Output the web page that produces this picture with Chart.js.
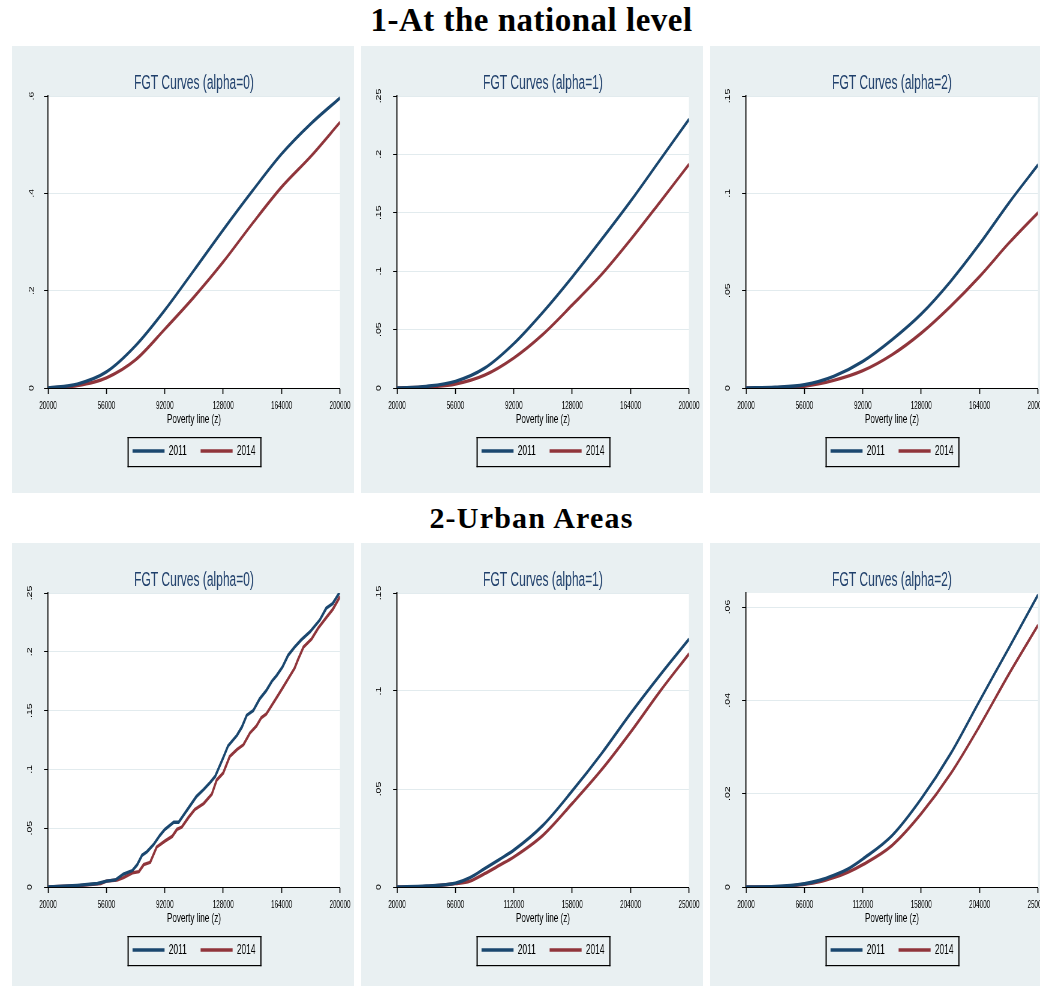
<!DOCTYPE html>
<html>
<head>
<meta charset="utf-8">
<title>FGT Curves</title>
<script src="https://cdn.jsdelivr.net/npm/chart.js@4.4.1/dist/chart.umd.min.js"></script>
<style>
  html, body { margin: 0; padding: 0; background: #fff; }
  body { position: relative; width: 1040px; height: 986px; overflow: hidden; }
  .heading {
    position: absolute; left: 0; width: 1063px; text-align: center;
    font-family: 'Liberation Serif', 'Times New Roman', serif; font-weight: bold;
    color: #000; line-height: 1; white-space: nowrap;
  }
  #h1 { top: 4px; font-size: 33px; letter-spacing: 0.5px; }
  #h2 { top: 503px; font-size: 30px; letter-spacing: 1.2px; }
  /* the stata graphs are squeezed sideways: draw wide, show narrow */
  canvas { position: absolute; width: 342px; }
  .row1 { top: 46px; height: 447px; }
  .row2 { top: 543px; height: 443px; }
</style>
</head>
<body>
<div class="heading" id="h1">1-At the national level</div>
<div class="heading" id="h2">2-Urban Areas</div>
<canvas id="nat0" class="row1" width="570" height="447" style="left:12px;width:342px;height:447px"></canvas>
<canvas id="nat1" class="row1" width="570" height="447" style="left:361px;width:342px;height:447px"></canvas>
<canvas id="nat2" class="row1" width="570" height="447" style="left:710px;width:342px;height:447px"></canvas>
<canvas id="urb0" class="row2" width="570" height="443" style="left:12px;width:342px;height:443px"></canvas>
<canvas id="urb1" class="row2" width="570" height="443" style="left:361px;width:342px;height:443px"></canvas>
<canvas id="urb2" class="row2" width="570" height="443" style="left:710px;width:342px;height:443px"></canvas>
<script>
const YEARS = ['2011', '2014'];

// national level: poverty line grid and x ticks
const NAT_X = [20000, 38000, 56000, 74000, 92000, 110000, 128000, 146000, 164000, 182000, 200000];
const NAT_X_TICKS = [20000, 56000, 92000, 128000, 164000, 200000];

const NAT_A0_2011 = [0, 0.008, 0.033, 0.087, 0.160, 0.242, 0.325, 0.405, 0.481, 0.543, 0.596];
const NAT_A0_2014 = [0, 0.005, 0.021, 0.058, 0.121, 0.187, 0.259, 0.338, 0.413, 0.476, 0.546];
const NAT_A0_Y_TICKS = [0, 0.2, 0.4, 0.6];

const NAT_A1_2011 = [0, 0.0014, 0.0057, 0.017, 0.038, 0.065, 0.095, 0.127, 0.160, 0.195, 0.230];
const NAT_A1_2014 = [0, 0.0008, 0.0034, 0.011, 0.0257, 0.046, 0.071, 0.097, 0.127, 0.159, 0.1915];
const NAT_A1_Y_TICKS = [0, 0.05, 0.1, 0.15, 0.2, 0.25];

const NAT_A2_2011 = [0, 0.0004, 0.0017, 0.006, 0.0137, 0.0248, 0.038, 0.0547, 0.074, 0.095, 0.1146];
const NAT_A2_2014 = [0, 0.0002, 0.0009, 0.0039, 0.0089, 0.0171, 0.0282, 0.0419, 0.0573, 0.0744, 0.0901];
const NAT_A2_Y_TICKS = [0, 0.05, 0.1, 0.15];

// urban areas, alpha=0 is a step-like curve read point by point
const URB_A0_X_2011 = [20000, 38000, 50500, 56000, 61500, 66500, 72000, 75000, 78000, 81000, 85000, 89000, 92000, 97500, 100500, 103500, 107500, 111500, 116000, 120000, 123000, 128000, 131000, 136500, 139500, 142500, 146500, 150500, 154500, 158000, 161000, 164500, 168000, 172000, 176000, 181500, 187500, 191500, 195500, 200000];
const URB_A0_2011 = [0, 0.0014, 0.003, 0.005, 0.006, 0.011, 0.014, 0.019, 0.027, 0.030, 0.036, 0.044, 0.049, 0.055, 0.055, 0.061, 0.069, 0.077, 0.083, 0.089, 0.094, 0.110, 0.120, 0.129, 0.136, 0.146, 0.150, 0.160, 0.167, 0.175, 0.180, 0.187, 0.197, 0.204, 0.210, 0.217, 0.227, 0.237, 0.241, 0.251];
const URB_A0_X_2014 = [20000, 38000, 52500, 56000, 62500, 66500, 72000, 76000, 79000, 83000, 87000, 92000, 96500, 99500, 102500, 106500, 110500, 116000, 121000, 124000, 128000, 132000, 136500, 140500, 144500, 148500, 151500, 154500, 160000, 164500, 168000, 172000, 174000, 177500, 182500, 186500, 191500, 195500, 200000];
const URB_A0_2014 = [0, 0.001, 0.003, 0.005, 0.006, 0.008, 0.012, 0.013, 0.019, 0.021, 0.034, 0.039, 0.043, 0.049, 0.051, 0.059, 0.066, 0.071, 0.079, 0.091, 0.097, 0.111, 0.117, 0.121, 0.131, 0.137, 0.144, 0.147, 0.159, 0.169, 0.177, 0.186, 0.193, 0.204, 0.211, 0.220, 0.229, 0.236, 0.247];
const URB_A0_Y_TICKS = [0, 0.05, 0.1, 0.15, 0.2, 0.25];

const URB_X = [20000, 43000, 66000, 77500, 89000, 100500, 112000, 135000, 158000, 181000, 204000, 227000, 250000];
const URB_X_TICKS = [20000, 66000, 112000, 158000, 204000, 250000];

const URB_A1_2011 = [0, 0.0005, 0.002, 0.0048, 0.0094, 0.014, 0.0188, 0.0315, 0.049, 0.068, 0.0886, 0.108, 0.1265];
const URB_A1_2014 = [0, 0.0003, 0.0017, 0.003, 0.0068, 0.011, 0.0153, 0.0264, 0.0426, 0.0597, 0.079, 0.0997, 0.119];
const URB_A1_Y_TICKS = [0, 0.05, 0.1, 0.15];

const URB_A2_2011 = [0, 0.0001, 0.0007, 0.0014, 0.0025, 0.0039, 0.006, 0.011, 0.0189, 0.0285, 0.0399, 0.0512, 0.0626];
const URB_A2_2014 = [0, 0, 0.0006, 0.0011, 0.002, 0.0032, 0.0048, 0.0089, 0.0157, 0.0242, 0.0345, 0.0456, 0.0561];
const URB_A2_Y_TICKS = [0, 0.02, 0.04, 0.06];

const PANELS = [
  { id: 'nat0', title: 'FGT Curves (alpha=0)', xs: [NAT_X, NAT_X], ys: [NAT_A0_2011, NAT_A0_2014], xRange: [20000, 200000], xTicks: NAT_X_TICKS, yMax: 0.6, yTicks: NAT_A0_Y_TICKS, smooth: true, padBottom: 25 },
  { id: 'nat1', title: 'FGT Curves (alpha=1)', xs: [NAT_X, NAT_X], ys: [NAT_A1_2011, NAT_A1_2014], xRange: [20000, 200000], xTicks: NAT_X_TICKS, yMax: 0.25, yTicks: NAT_A1_Y_TICKS, smooth: true, padBottom: 25 },
  { id: 'nat2', title: 'FGT Curves (alpha=2)', xs: [NAT_X, NAT_X], ys: [NAT_A2_2011, NAT_A2_2014], xRange: [20000, 200000], xTicks: NAT_X_TICKS, yMax: 0.15, yTicks: NAT_A2_Y_TICKS, smooth: true, padBottom: 25 },
  { id: 'urb0', title: 'FGT Curves (alpha=0)', xs: [URB_A0_X_2011, URB_A0_X_2014], ys: [URB_A0_2011, URB_A0_2014], xRange: [20000, 200000], xTicks: NAT_X_TICKS, yMax: 0.25, yTicks: URB_A0_Y_TICKS, smooth: false, padBottom: 19 },
  { id: 'urb1', title: 'FGT Curves (alpha=1)', xs: [URB_X, URB_X], ys: [URB_A1_2011, URB_A1_2014], xRange: [20000, 250000], xTicks: URB_X_TICKS, yMax: 0.15, yTicks: URB_A1_Y_TICKS, smooth: true, padBottom: 19 },
  { id: 'urb2', title: 'FGT Curves (alpha=2)', xs: [URB_X, URB_X], ys: [URB_A2_2011, URB_A2_2014], xRange: [20000, 250000], xTicks: URB_X_TICKS, yMax: 0.063, yTicks: URB_A2_Y_TICKS, smooth: true, padBottom: 19 },
];

const LINE_COLORS = ['#1a476f', '#90353b'];
const PANEL_BG = '#e9f0f2';
const GRID_COLOR = '#e2ebee';
const TITLE_COLOR = '#1f3f6b';
const FONT = "'Liberation Sans', Arial, sans-serif";
// canvas is drawn 570 wide and shown 342 wide, so horizontal sizes are stretched by SX
const SX = 570 / 342;

function formatShare(value) {
  if (value === 0) return '0';
  return String(value).replace(/^0\./, '.');
}

// stata-like backdrop: bluish graph region, white plot region
const plotBackground = {
  id: 'plotBackground',
  beforeDraw(chart) {
    const { ctx, chartArea: a } = chart;
    ctx.save();
    ctx.fillStyle = PANEL_BG;
    ctx.fillRect(0, 0, chart.width, chart.height);
    ctx.fillStyle = '#fff';
    ctx.fillRect(a.left, a.top, a.right - a.left, a.bottom - a.top);
    ctx.restore();
  },
};

// black frame around the legend items
const legendFrame = {
  id: 'legendFrame',
  afterDraw(chart) {
    const boxes = chart.legend && chart.legend.legendHitBoxes;
    if (!boxes || !boxes.length) return;
    const left = Math.min(...boxes.map((b) => b.left)) - 5 * SX;
    const right = Math.max(...boxes.map((b) => b.left + b.width)) + 6 * SX;
    const top = Math.round(boxes[0].top + boxes[0].height / 2 - 14.5);
    const h = 29;
    const vw = 1.2 * SX;
    const ctx = chart.ctx;
    ctx.save();
    ctx.fillStyle = '#000';
    ctx.fillRect(left, top, right - left, 1.2);
    ctx.fillRect(left, top + h, right - left, 1.2);
    ctx.fillRect(left, top, vw, h + 1.2);
    ctx.fillRect(right - vw, top, vw, h + 1.2);
    ctx.restore();
  },
};

function buildDataset(label, xs, ys, color, smooth) {
  return {
    label,
    data: xs.map((x, i) => ({ x, y: ys[i] })),
    borderColor: color,
    backgroundColor: color,
    borderWidth: 3.4,
    pointRadius: 0,
    tension: 0,
    cubicInterpolationMode: smooth ? 'monotone' : 'default',
    fill: false,
  };
}

function buildConfig(panel) {
  return {
    type: 'line',
    data: {
      datasets: YEARS.map((year, i) => buildDataset(year, panel.xs[i], panel.ys[i], LINE_COLORS[i], panel.smooth)),
    },
    options: {
      responsive: false,
      animation: false,
      devicePixelRatio: 1,
      layout: { padding: { left: 0, right: 14 * SX, top: 0, bottom: panel.padBottom } },
      scales: {
        x: {
          type: 'linear',
          min: panel.xRange[0],
          max: panel.xRange[1],
          afterBuildTicks: (scale) => { scale.ticks = panel.xTicks.map((v) => ({ value: v })); },
          afterFit: (scale) => {
            scale.height = 33;
            scale.paddingLeft = 0;
            scale.paddingRight = 0;
          },
          border: { display: true, color: '#000', width: 1 },
          grid: { drawOnChartArea: false, drawTicks: true, tickLength: 6, tickColor: '#000', tickWidth: SX },
          ticks: {
            color: '#000',
            font: { family: FONT, size: 10.5 },
            padding: 6,
            autoSkip: false,
            maxRotation: 0,
            callback: (value) => String(value),
          },
          title: {
            display: true,
            text: 'Poverty line (z)',
            color: '#000',
            font: { family: FONT, size: 13.5 },
            padding: { top: 0, bottom: -6 },
          },
        },
        y: {
          min: 0,
          max: panel.yMax,
          afterBuildTicks: (scale) => { scale.ticks = panel.yTicks.map((v) => ({ value: v })); },
          afterFit: (scale) => {
            scale.width = 36 * SX;
            scale.paddingTop = 0;
            scale.paddingBottom = 0;
          },
          border: { display: true, color: '#000', width: SX },
          grid: {
            color: (c) => (c.tick && c.tick.value === 0 ? 'rgba(0,0,0,0)' : GRID_COLOR),
            tickLength: 4 * SX,
            tickColor: '#000',
            tickWidth: 1,
          },
          ticks: {
            color: '#000',
            font: { family: FONT, size: 10.5 },
            minRotation: 90,
            maxRotation: 90,
            crossAlign: 'center',
            padding: 16,
            callback: (value) => formatShare(value),
          },
        },
      },
      plugins: {
        title: {
          display: true,
          fullSize: false,
          text: panel.title,
          color: TITLE_COLOR,
          font: { family: FONT, size: 20, weight: 'normal' },
          padding: { top: 25, bottom: 1 },
        },
        legend: {
          position: 'bottom',
          fullSize: false,
          labels: {
            color: '#000',
            font: { family: FONT, size: 14 },
            boxWidth: 32 * SX,
            boxHeight: 3.4,
            padding: 23,
            generateLabels: (chart) => Chart.defaults.plugins.legend.labels.generateLabels(chart)
              .map((item) => ({ ...item, lineWidth: 0 })),
          },
        },
        tooltip: { enabled: false },
      },
    },
    plugins: [plotBackground, legendFrame],
  };
}

function main() {
  PANELS.forEach((panel) => {
    const canvas = document.getElementById(panel.id);
    if (canvas) new Chart(canvas, buildConfig(panel));
  });
}

main();
</script>
</body>
</html>
